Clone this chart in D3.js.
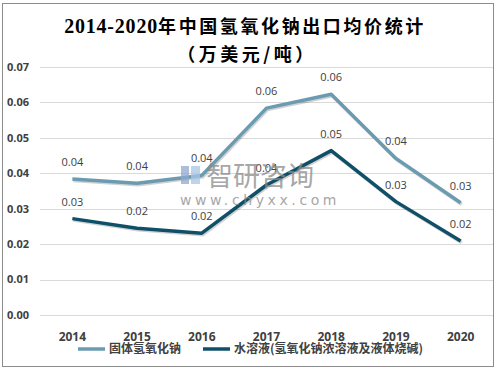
<!DOCTYPE html>
<meta charset="utf-8">
<script src="https://d3js.org/d3.v7.min.js"></script>
<style>
  body { margin: 0; background: #fff; }
</style>
<div id="chart"></div>
<script>

// data
var years = ["2014", "2015", "2016", "2017", "2018", "2019", "2020"];
var solid = [0.0384, 0.0372, 0.0394, 0.0584, 0.0623, 0.0442, 0.0317];   // 固体氢氧化钠
var liquid = [0.0272, 0.0245, 0.0231, 0.0367, 0.0464, 0.0320, 0.0209];  // 水溶液
var yTicks = [0, 0.01, 0.02, 0.03, 0.04, 0.05, 0.06, 0.07];
var seriesNames = ["固体氢氧化钠", "水溶液(氢氧化钠浓溶液及液体烧碱)"];
var colors = ["#6b9bb1", "#0f5068"];

var W = 497, H = 371;
var margin = {top: 67, right: 4, bottom: 56, left: 40};
var width = W - margin.left - margin.right,
    height = H - margin.top - margin.bottom;

var svg = d3.select("#chart").append("svg")
    .attr("width", W).attr("height", H);

// outer border
svg.append("rect")
    .attr("x", 2.5).attr("y", 3.5).attr("width", 491).attr("height", 363)
    .attr("fill", "#fff").attr("stroke", "#8c8c8c").attr("stroke-width", 1);

// title
var t1 = svg.append("text").attr("x", 245).attr("y", 33).attr("text-anchor", "middle")
    .style("font-family", "'Noto Sans CJK SC', sans-serif")
    .style("font-size", "18px").style("font-weight", "bold")
    .style("letter-spacing", "2.6px").attr("fill", "#000");
t1.append("tspan")
    .style("font-family", "'Liberation Serif', serif").style("font-size", "20px")
    .style("font-weight", "bold").style("letter-spacing", "0.8px")
    .text("2014-2020");
t1.append("tspan").text("年中国氢氧化钠出口均价统计");
svg.append("text").attr("x", 247).attr("y", 61).attr("text-anchor", "middle")
    .style("font-family", "'Noto Sans CJK SC', sans-serif")
    .style("font-size", "18px").style("font-weight", "bold")
    .style("letter-spacing", "3.5px").attr("fill", "#000")
    .text("（万美元/吨）");

var g = svg.append("g")
    .attr("transform", "translate(" + margin.left + "," + margin.top + ")");

var x = d3.scaleBand().domain(years).range([0, width]);
var y = d3.scaleLinear().domain([0, 0.07]).range([height, 0]);

// gridlines
g.append("g").selectAll("line").data(yTicks).enter().append("line")
    .attr("x1", 0).attr("x2", width)
    .attr("y1", function(d) { return Math.round(y(d)) + 0.5; })
    .attr("y2", function(d) { return Math.round(y(d)) + 0.5; })
    .attr("stroke", "#d9d9d9").attr("stroke-width", 1);

// y axis labels
g.append("g").selectAll("text").data(yTicks).enter().append("text")
    .attr("x", -11).attr("y", function(d) { return y(d); })
    .attr("dy", "0.35em").attr("text-anchor", "end")
    .style("font-family", "'Open Sans', 'Noto Sans', sans-serif")
    .style("font-size", "11px").style("font-weight", "bold").attr("fill", "#404040")
    .text(d3.format(".2f"));

// x axis labels
g.append("g").selectAll("text").data(years).enter().append("text")
    .attr("x", function(d) { return x(d) + x.bandwidth() / 2; })
    .attr("y", height + 26).attr("text-anchor", "middle")
    .style("font-family", "'Open Sans', 'Noto Sans', sans-serif")
    .style("font-size", "12px").style("font-weight", "bold").attr("fill", "#404040")
    .text(function(d) { return d; });

// watermark
var wm = svg.append("g").attr("opacity", 0.75);
wm.append("rect").attr("x", 181).attr("y", 166).attr("width", 8).attr("height", 18).attr("fill", "#8fa9cf");
wm.append("rect").attr("x", 191).attr("y", 166).attr("width", 9).attr("height", 18).attr("fill", "#a9c6e8");
wm.append("text").attr("x", 206).attr("y", 186)
    .style("font-family", "'Noto Sans CJK SC', sans-serif").style("font-size", "27px")
    .attr("fill", "#8a8a8a").text("智研咨询");
wm.append("text").attr("x", 180).attr("y", 205)
    .style("font-family", "'DejaVu Sans', sans-serif").style("font-size", "14px")
    .style("letter-spacing", "3.6px")
    .attr("fill", "#8a8a8a").text("www.chyxx.com");

// lines
var line = d3.line()
    .x(function(d, i) { return x(years[i]) + x.bandwidth() / 2; })
    .y(function(d) { return y(d); });

[solid, liquid].forEach(function(vals, k) {
  g.append("path").datum(vals)
      .attr("d", line).attr("fill", "none")
      .attr("stroke", "rgba(0,0,0,0.18)").attr("stroke-width", 3.5)
      .attr("transform", "translate(1,1.5)");
  g.append("path").datum(vals)
      .attr("d", line).attr("fill", "none")
      .attr("stroke", colors[k]).attr("stroke-width", 3.5)
      .attr("stroke-linejoin", "round");
  g.append("g").selectAll("text").data(vals).enter().append("text")
      .attr("x", function(d, i) { return x(years[i]) + x.bandwidth() / 2; })
      .attr("y", function(d) { return y(d) - 13; })
      .attr("text-anchor", "middle")
      .style("font-family", "'Open Sans', 'Noto Sans', sans-serif")
      .style("font-size", "11px").attr("fill", "#404040")
      .text(d3.format(".2f"));
});

// legend
var legendX = [78, 203];
seriesNames.forEach(function(name, k) {
  svg.append("line")
      .attr("x1", legendX[k]).attr("x2", legendX[k] + 27)
      .attr("y1", 349).attr("y2", 349)
      .attr("stroke", colors[k]).attr("stroke-width", 3.5);
  svg.append("text").attr("x", legendX[k] + 31).attr("y", 349).attr("dy", "0.35em")
      .style("font-family", "'Noto Sans CJK SC', sans-serif")
      .style("font-size", "12px").style("font-weight", "bold").attr("fill", "#404040")
      .text(name);
});

</script>
